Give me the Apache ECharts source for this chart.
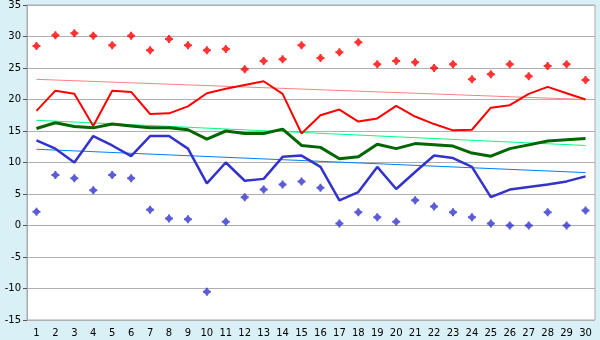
<!DOCTYPE html>
<html>
<head>
<meta charset="utf-8">
<script src="https://cdn.jsdelivr.net/npm/echarts@6/dist/echarts.min.js"></script>
<style>
  html, body { margin: 0; padding: 0; background: #d9f0f7; }
  #chart { width: 600px; height: 340px; }
</style>
</head>
<body>
<div id="chart"></div>
<script>
  // days of the month
  var days = [];
  for (var d = 1; d <= 30; d++) days.push(String(d));

  var maxTemp = [18.2, 21.4, 20.9, 15.8, 21.4, 21.2, 17.7, 17.8, 18.9, 21.0,
                 21.7, 22.3, 22.9, 20.9, 14.6, 17.5, 18.4, 16.5, 17.0, 19.0,
                 17.3, 16.1, 15.1, 15.2, 18.7, 19.1, 20.9, 22.0, 21.0, 20.0];
  var meanTemp = [15.4, 16.3, 15.7, 15.5, 16.1, 15.8, 15.5, 15.5, 15.2, 13.7,
                  15.0, 14.6, 14.6, 15.3, 12.7, 12.4, 10.6, 10.9, 12.9, 12.2,
                  13.0, 12.8, 12.6, 11.5, 11.0, 12.2, 12.8, 13.4, 13.6, 13.8];
  var minTemp = [13.5, 12.2, 10.0, 14.2, 12.7, 11.0, 14.2, 14.2, 12.2, 6.7,
                 10.0, 7.1, 7.4, 10.9, 11.1, 9.3, 4.0, 5.3, 9.3, 5.8,
                 8.5, 11.1, 10.7, 9.3, 4.5, 5.7, 6.1, 6.5, 7.0, 7.8];
  var recordMax = [28.5, 30.2, 30.5, 30.1, 28.6, 30.1, 27.8, 29.6, 28.6, 27.8,
                   28.0, 24.8, 26.1, 26.4, 28.6, 26.6, 27.5, 29.1, 25.6, 26.1,
                   25.9, 25.0, 25.6, 23.2, 24.0, 25.6, 23.7, 25.3, 25.6, 23.1];
  var recordMin = [2.2, 8.0, 7.5, 5.6, 8.0, 7.5, 2.5, 1.1, 1.0, -10.5,
                   0.6, 4.5, 5.7, 6.5, 7.0, 6.0, 0.3, 2.1, 1.3, 0.6,
                   4.0, 3.0, 2.1, 1.3, 0.3, 0.0, 0.0, 2.1, 0.0, 2.4];
  // trend lines: value at first and last day
  var maxTrend = [23.2, 20.0];
  var meanTrend = [16.7, 12.7];
  var minTrend = [12.1, 8.4];

  var starShape = 'path://M0,-4 L2,-2 L4,0 L2,2 L0,4 L-2,2 L-4,0 L-2,-2 Z M-1,-4 L1,-4 L1,4 L-1,4 Z M-4,-1 L4,-1 L4,1 L-4,1 Z';

  var myChart = echarts.init(document.getElementById('chart'));

  function trend(ends, color) {
    return {
      type: 'line',
      data: [[days[0], ends[0]], [days[days.length - 1], ends[1]]],
      symbol: 'none',
      silent: true,
      z: 1,
      lineStyle: { color: color, width: 1 }
    };
  }

  function curve(values, color, width) {
    return {
      type: 'line',
      data: values,
      symbol: 'none',
      z: 3,
      lineStyle: { color: color, width: width }
    };
  }

  function dots(values, color) {
    return {
      type: 'scatter',
      data: values,
      symbol: starShape,
      symbolSize: 8,
      z: 4,
      itemStyle: { color: color }
    };
  }

  myChart.setOption({
    backgroundColor: '#d9f0f7',
    animation: false,
    textStyle: { fontFamily: 'DejaVu Sans' },
    grid: {
      left: 27, right: 5, top: 5, bottom: 20,
      show: true,
      backgroundColor: '#ffffff',
      borderColor: '#aaaaaa',
      borderWidth: 1
    },
    xAxis: {
      type: 'category',
      data: days,
      boundaryGap: true,
      axisLine: { lineStyle: { color: '#aaaaaa' } },
      axisTick: { alignWithLabel: true, length: 5, lineStyle: { color: '#555555' } },
      axisLabel: { color: '#000000', fontSize: 10, margin: 8, interval: 0 },
      splitLine: { show: false }
    },
    yAxis: {
      type: 'value',
      min: -15,
      max: 35,
      interval: 5,
      axisLine: { show: true, lineStyle: { color: '#aaaaaa' } },
      axisTick: { show: true, length: 4, lineStyle: { color: '#555555' } },
      axisLabel: { color: '#000000', fontSize: 10, margin: 6 },
      splitLine: { lineStyle: { color: '#b0b0b0', width: 1 } }
    },
    series: [
      trend(maxTrend, '#ff8080'),
      trend(meanTrend, '#00ff80'),
      trend(minTrend, '#0080ff'),
      curve(maxTemp, '#ff0000', 2),
      curve(meanTemp, '#006600', 3),
      curve(minTemp, '#3333cc', 2.5),
      dots(recordMax, '#ff0000'),
      dots(recordMin, '#3333cc')
    ]
  });
</script>
</body>
</html>
